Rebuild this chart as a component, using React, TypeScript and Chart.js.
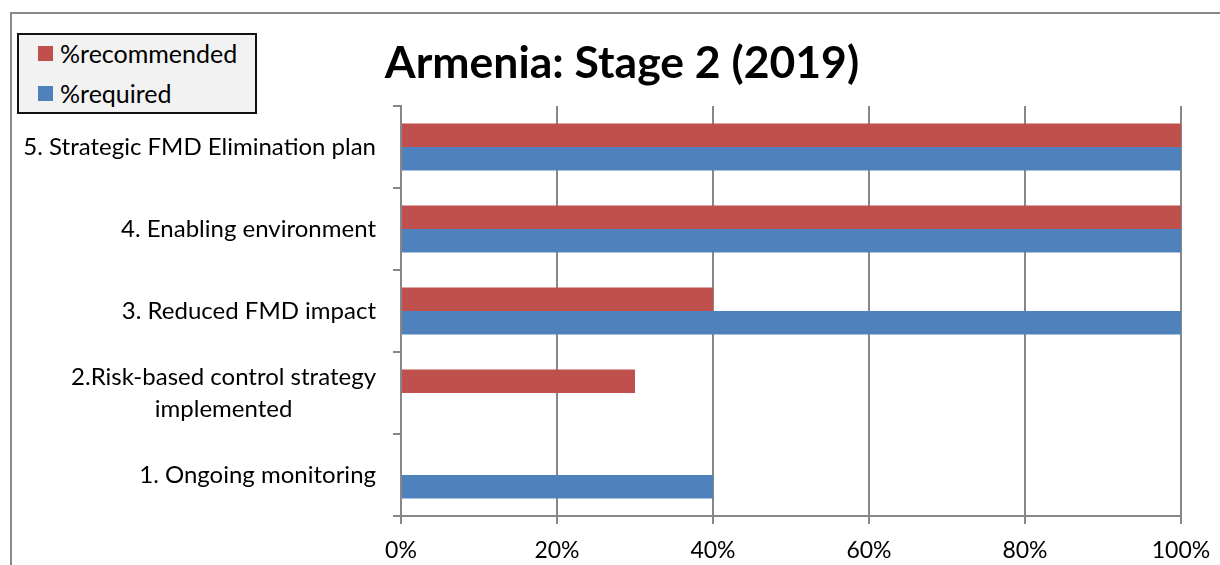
import React, { useEffect, useRef } from "react";
import { Chart, registerables } from "chart.js";

Chart.register(...registerables);

const title = "Armenia: Stage 2 (2019)";
const categories: (string | string[])[] = [
  "5. Strategic FMD Elimination plan",
  "4. Enabling environment",
  "3. Reduced FMD impact",
  ["2.Risk-based control strategy", "implemented"],
  "1. Ongoing monitoring",
];
const recommended = [100, 100, 40, 30, 0];
const required = [100, 100, 100, 0, 40];
const seriesNames = ["%recommended", "%required"];
const seriesColors = ["#C0504D", "#4F81BD"];

const FONT = "Lato, 'Open Sans', sans-serif";
const GRID = "#878787";

const yLabelPlugin = {
  id: "yLabels",
  afterDraw(chart: any) {
    const scale = chart.scales.y;
    const ctx = chart.ctx;
    ctx.save();
    ctx.font = `24px ${FONT}`;
    ctx.fillStyle = "#000";
    ctx.textAlign = "center";
    ctx.textBaseline = "middle";
    const right = chart.chartArea.left - 25;
    const lineH = 32;
    categories.forEach((lab, i) => {
      const lines = Array.isArray(lab) ? lab : [lab];
      const maxW = Math.max(...lines.map((l) => ctx.measureText(l).width));
      const cx = right - maxW / 2;
      const cy = scale.getPixelForTick(i);
      const start = cy - ((lines.length - 1) * lineH) / 2;
      lines.forEach((l, k) => ctx.fillText(l, cx, start + k * lineH));
    });
    ctx.restore();
  },
};

export default function App() {
  const ref = useRef<HTMLCanvasElement>(null);
  useEffect(() => {
    const chart = new Chart(ref.current!, {
      type: "bar",
      data: {
        labels: categories as any,
        datasets: [
          {
            label: seriesNames[0],
            data: recommended,
            backgroundColor: seriesColors[0],
            categoryPercentage: 0.573,
            barPercentage: 1,
          },
          {
            label: seriesNames[1],
            data: required,
            backgroundColor: seriesColors[1],
            categoryPercentage: 0.573,
            barPercentage: 1,
          },
        ],
      },
      options: {
        indexAxis: "y",
        responsive: false,
        animation: false,
        devicePixelRatio: 1,
        layout: { padding: { left: 63, right: 39, top: 0, bottom: 0 } },
        plugins: {
          legend: { display: false },
          tooltip: { enabled: false },
          title: {
            display: true,
            text: title,
            color: "#000",
            font: { family: FONT, size: 44.5, weight: "bold", lineHeight: 1.2 },
            padding: { top: 37.3, bottom: 15.3 },
          },
        },
        scales: {
          x: {
            min: 0,
            max: 100,
            ticks: {
              stepSize: 20,
              callback: (v: any) => v + "%",
              color: "#000",
              font: { family: FONT, size: 23 },
              padding: 13,
              maxRotation: 0,
            },
            grid: { color: GRID, lineWidth: 2, tickLength: 8, drawTicks: true },
            border: { color: GRID, width: 2 },
            afterFit: (s: any) => {
              s.height = 49;
              s.paddingLeft = 0;
              s.paddingRight = 0;
            },
          },
          y: {
            type: "category",
            ticks: { color: "rgba(0,0,0,0)", font: { family: FONT, size: 12 } },
            grid: {
              color: GRID,
              lineWidth: 2,
              tickLength: 8,
              drawOnChartArea: false,
              offset: true,
            },
            border: { color: GRID, width: 2 },
            afterFit: (s: any) => {
              s.width = 338;
              s.paddingTop = 0;
              s.paddingBottom = 0;
            },
          },
        },
      },
      plugins: [yLabelPlugin],
    });
    return () => chart.destroy();
  }, []);

  return (
    <div
      style={{
        position: "fixed",
        left: 0,
        top: 0,
        width: 1220,
        height: 565,
        overflow: "hidden",
        background: "#fff",
        fontFamily: FONT,
      }}
    >
      <div
        style={{
          position: "absolute",
          left: 10,
          top: 12,
          width: 1400,
          height: 800,
          border: "2px solid #888",
        }}
      />
      <canvas
        ref={ref}
        width={1220}
        height={565}
        style={{ position: "absolute", left: 0, top: 0, width: 1220, height: 565 }}
      />
      <div
        style={{
          position: "absolute",
          left: 17,
          top: 33,
          width: 240,
          height: 81,
          boxSizing: "border-box",
          background: "#F2F2F2",
          border: "2px solid #111",
        }}
      >
        {seriesNames.map((name, i) => (
          <div
            key={name}
            style={{
              position: "absolute",
              left: 19,
              top: 5 + i * 40,
              height: 26,
              display: "flex",
              alignItems: "center",
              fontSize: 25,
              color: "#000",
              whiteSpace: "nowrap",
            }}
          >
            <span
              style={{
                display: "inline-block",
                width: 15,
                height: 15,
                background: seriesColors[i],
                marginRight: 7,
              }}
            />
            {name}
          </div>
        ))}
      </div>
    </div>
  );
}
